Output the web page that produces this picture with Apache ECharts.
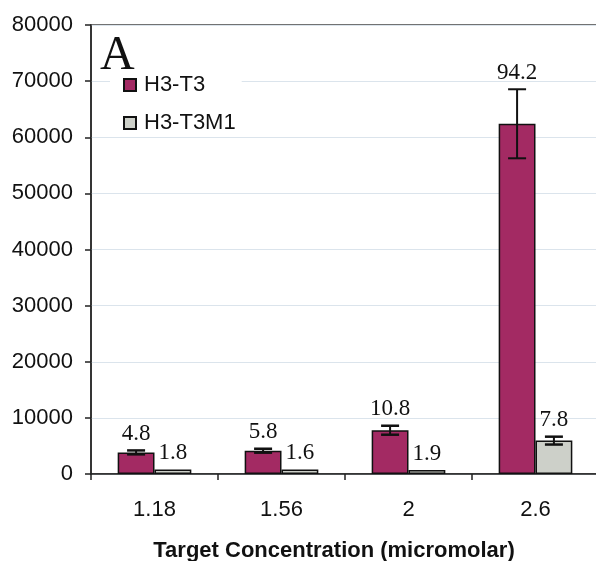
<!DOCTYPE html>
<html>
<head>
<meta charset="utf-8">
<script src="https://cdn.jsdelivr.net/npm/echarts@6/dist/echarts.min.js"></script>
<style>html,body{margin:0;padding:0;background:#fff}#c{width:596px;height:561px}</style>
</head>
<body>
<div id="c"></div>
<script>
const categories = ['1.18', '1.56', '2', '2.6'];
const seriesNames = ['H3-T3', 'H3-T3M1'];
const h3t3 = [3850, 4150, 7800, 62400];
const h3t3Err = [350, 350, 800, 6150];
const h3t3Labels = ['4.8', '5.8', '10.8', '94.2'];
const h3t3m1 = [800, 800, 700, 5950];
const h3t3m1Err = [0, 0, 0, 700];
const h3t3m1Labels = ['1.8', '1.6', '1.9', '7.8'];
const yTicks = [0, 10000, 20000, 30000, 40000, 50000, 60000, 70000, 80000];

const BAR_FRAC = 0.29;
const sans = 'Liberation Sans, Arial, sans-serif';
const serif = 'Liberation Serif, Times New Roman, serif';

function errSeries(values, errs, labels, side) {
  return {
    type: 'custom',
    z: 5,
    clip: false,
    silent: true,
    encode: { x: 0, y: 1 },
    data: values.map((v, i) => [i, v, errs[i]]),
    renderItem: function (params, api) {
      const ci = api.value(0), val = api.value(1), err = api.value(2);
      const label = labels[params.dataIndex];
      const band = api.size([1, 0])[0];
      const barW = band * BAR_FRAC;
      const base = api.coord([ci, val]);
      const x = base[0] + side * barW / 2;
      const children = [];
      let topY = base[1];
      if (err > 0) {
        const yT = api.coord([ci, val + err])[1];
        const yB = api.coord([ci, val - err])[1];
        const cap = 9;
        const st = { stroke: '#111', lineWidth: 2 };
        const capSt = { stroke: '#111', lineWidth: err < 1000 ? 2.5 : 2 };
        children.push({ type: 'line', shape: { x1: x, y1: yT, x2: x, y2: yB }, style: st });
        children.push({ type: 'line', shape: { x1: x - cap, y1: yT, x2: x + cap, y2: yT }, style: capSt });
        children.push({ type: 'line', shape: { x1: x - cap, y1: yB, x2: x + cap, y2: yB }, style: capSt });
        topY = Math.min(topY, yT);
      }
      children.push({
        type: 'text',
        style: {
          text: label, x: x, y: topY - 5,
          align: 'center', verticalAlign: 'bottom',
          font: '23px ' + serif, fill: '#111'
        }
      });
      return { type: 'group', children: children };
    }
  };
}

const chart = echarts.init(document.getElementById('c'), null, { renderer: 'canvas' });
chart.setOption({
  animation: false,
  backgroundColor: '#fff',
  title: {
    text: 'A', left: 95, top: 27,
    textStyle: { fontFamily: serif, fontSize: 48, fontWeight: 'normal', color: '#111' }
  },
  legend: {
    orient: 'vertical',
    left: 110, top: 71,
    padding: [3, 6, 3, 13],
    backgroundColor: '#fff',
    itemWidth: 12, itemHeight: 12, itemGap: 16,
    icon: 'rect',
    data: seriesNames,
    textStyle: { fontFamily: sans, fontSize: 22, color: '#111', padding: [0, 0, 0, 3] }
  },
  grid: {
    left: 91, right: -3, top: 25, bottom: 87,
    containLabel: false, outerBoundsMode: 'none',
    show: true, borderColor: '#444', borderWidth: 1.5, backgroundColor: 'transparent'
  },
  xAxis: {
    type: 'category',
    data: categories,
    axisLine: { lineStyle: { color: '#222', width: 1.5 } },
    axisTick: { show: true, length: 6, lineStyle: { color: '#222', width: 1.5 } },
    axisLabel: { fontFamily: sans, fontSize: 22, color: '#111', margin: 25 },
    name: 'Target Concentration (micromolar)',
    nameLocation: 'middle',
    nameGap: 66,
    nameTextStyle: { fontFamily: sans, fontSize: 22, fontWeight: 'bold', color: '#111', padding: [0, 22, 0, 0] }
  },
  yAxis: {
    type: 'value',
    min: yTicks[0], max: yTicks[yTicks.length - 1], interval: yTicks[1] - yTicks[0],
    axisLine: { show: true, lineStyle: { color: '#222', width: 1.5 } },
    axisTick: { show: true, length: 6, lineStyle: { color: '#222', width: 1.5 } },
    axisLabel: { fontFamily: sans, fontSize: 22, color: '#111', margin: 18, formatter: v => String(v) },
    splitLine: { show: true, lineStyle: { color: '#dbe4ec', width: 1 } }
  },
  series: [
    {
      name: seriesNames[0], type: 'bar', data: h3t3,
      barWidth: (BAR_FRAC * 100) + '%', barGap: '0%',
      itemStyle: { color: '#a32a63', borderColor: '#111', borderWidth: 1.5 }
    },
    {
      name: seriesNames[1], type: 'bar', data: h3t3m1,
      barWidth: (BAR_FRAC * 100) + '%', barGap: '0%',
      itemStyle: { color: '#cdd0c9', borderColor: '#111', borderWidth: 1.5 }
    },
    errSeries(h3t3, h3t3Err, h3t3Labels, -1),
    errSeries(h3t3m1, h3t3m1Err, h3t3m1Labels, 1)
  ]
});
</script>
</body>
</html>
